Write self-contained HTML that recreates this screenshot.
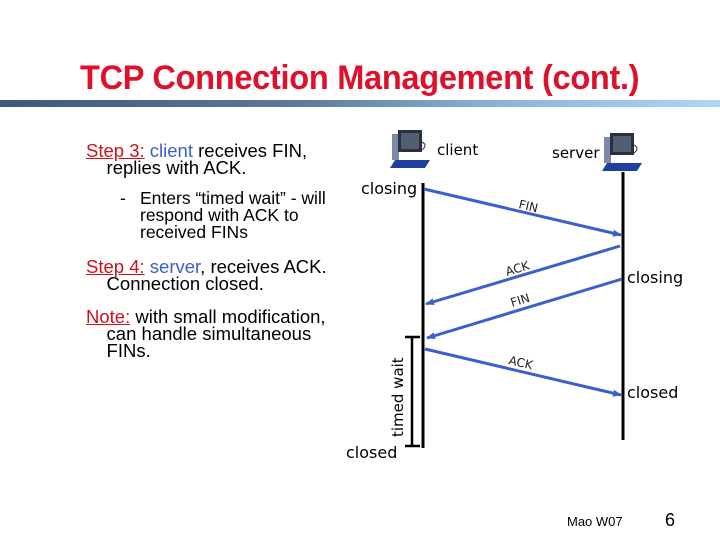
<!DOCTYPE html>
<html><head><style>
body{margin:0;width:720px;height:540px;background:#fff;overflow:hidden;position:relative;font-family:"Liberation Sans",Arimo,Arial,Helvetica,sans-serif}
.t{position:absolute;white-space:nowrap;font-family:"Liberation Sans",Arimo,Arial,Helvetica,sans-serif}
.r{color:#d0101c;text-decoration:underline}
.b{color:#3a5fc8}
</style></head><body>
<div class="t" style="left:80px;top:59px;font-size:34px;color:#e0102a;font-weight:bold;letter-spacing:-0.3px;transform:scaleX(0.957);transform-origin:0 0">TCP Connection Management (cont.)</div>
<div style="position:absolute;left:0;top:100px;width:720px;height:7px;background:linear-gradient(90deg,#3f5878,#5a7898 40%,#8cb4dc 70%,#b0d4f8)"></div>
<div class="t" style="left:86px;top:142px;font-size:18.5px;line-height:17px">
<span class="r">Step 3:</span> <span class="b">client</span> receives FIN,<br>&nbsp;&nbsp;&nbsp;&nbsp;replies with ACK.</div>
<div class="t" style="left:120px;top:190px;font-size:17.5px;line-height:17px">-</div>
<div class="t" style="left:140px;top:190px;font-size:17.5px;line-height:17px">Enters “timed wait” - will<br>respond with ACK to<br>received FINs</div>
<div class="t" style="left:86px;top:258px;font-size:18.5px;line-height:17px">
<span class="r">Step 4:</span> <span class="b">server</span>, receives ACK.<br>&nbsp;&nbsp;&nbsp;&nbsp;Connection closed.</div>
<div class="t" style="left:86px;top:308px;font-size:18.5px;line-height:17px">
<span class="r">Note:</span> with small modification,<br>&nbsp;&nbsp;&nbsp;&nbsp;can handle simultaneous<br>&nbsp;&nbsp;&nbsp;&nbsp;FINs.</div>
<svg width="720" height="540" style="position:absolute;left:0;top:0" font-family="DejaVu Sans,sans-serif">
<defs><marker id="a" markerWidth="9" markerHeight="7" refX="8" refY="3.5" orient="auto" markerUnits="userSpaceOnUse"><path d="M0,0L9,3.5L0,7z" fill="#3a5fd0"/></marker></defs>
<g transform="translate(392,128)"><rect x="0" y="6" width="7" height="26" fill="#7a8aa8"/><rect x="6" y="2" width="24" height="22" fill="#2a3040"/><rect x="9" y="5" width="18" height="16" fill="#506070"/><path d="M3,32L38,32L33,40L-2,40z" fill="#2040a0"/><path d="M30,14q6,3 0,8" stroke="#333" fill="none"/></g>
<g transform="translate(604,131)"><rect x="0" y="6" width="7" height="26" fill="#7a8aa8"/><rect x="6" y="2" width="24" height="22" fill="#2a3040"/><rect x="9" y="5" width="18" height="16" fill="#506070"/><path d="M3,32L38,32L33,40L-2,40z" fill="#2040a0"/><path d="M30,14q6,3 0,8" stroke="#333" fill="none"/></g>
<text x="437" y="155" font-size="15">client</text>
<text x="552" y="158" font-size="15">server</text>
<line x1="423" y1="183" x2="423" y2="448" stroke="#000" stroke-width="3"/>
<line x1="623" y1="172" x2="623" y2="440" stroke="#000" stroke-width="3"/>
<text x="361" y="194" font-size="16">closing</text>
<text x="627" y="283" font-size="16">closing</text>
<text x="627" y="398" font-size="16">closed</text>
<text x="346" y="458" font-size="16">closed</text>
<g stroke="#3a5fd0" stroke-width="3" marker-end="url(#a)">
<line x1="424" y1="189" x2="621" y2="235"/>
<line x1="620" y1="246" x2="426" y2="304"/>
<line x1="622" y1="279" x2="427" y2="338"/>
<line x1="425" y1="349" x2="621" y2="395"/>
</g>
<g font-size="12" fill="#222">
<text x="518" y="208" transform="rotate(13 518 208)">FIN</text>
<text x="507" y="276" transform="rotate(-17 507 276)">ACK</text>
<text x="512" y="307" transform="rotate(-17 512 307)">FIN</text>
<text x="508" y="364" transform="rotate(13 508 364)">ACK</text>
</g>
<g stroke="#000" stroke-width="2.5"><line x1="412" y1="337" x2="412" y2="446"/><line x1="405" y1="337" x2="420" y2="337"/><line x1="405" y1="446" x2="420" y2="446"/></g>
<text transform="translate(403,437) rotate(-90)" font-size="15">timed wait</text>
</svg>
<div class="t" style="left:567px;top:514px;font-size:13px">Mao W07</div>
<div class="t" style="left:665px;top:510px;font-size:18px">6</div>
</body></html>
